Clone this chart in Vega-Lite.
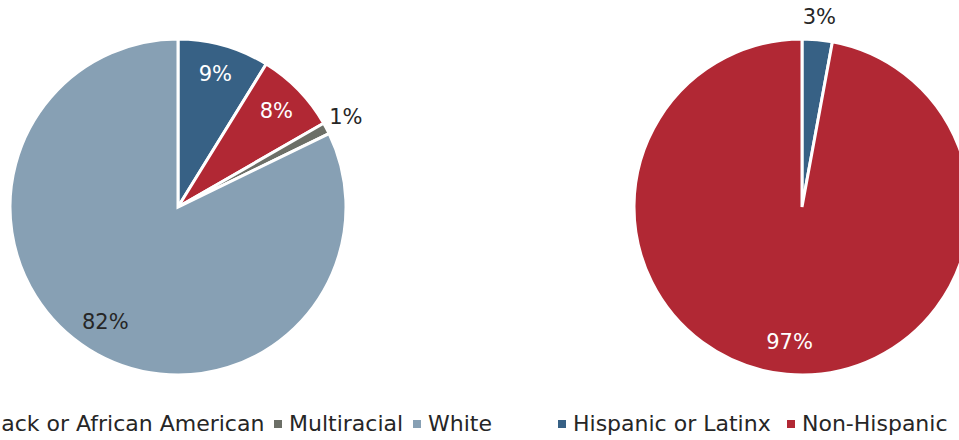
{
  "$schema": "https://vega.github.io/schema/vega-lite/v6.json",
  "autosize": {"type": "pad"},
  "padding": {"left": -127, "top": 0, "right": -13, "bottom": 0},
  "background": "white",
  "config": {"view": {"stroke": null}, "font": "DejaVu Sans"},
  "spacing": 276,
  "bounds": "flush",
  "resolve": {"scale": {"color": "independent", "theta": "independent"}, "legend": {"color": "independent"}},
  "hconcat": [
    {
      "width": 356,
      "height": 414,
      "data": {"values": [
        {"race": "Asian", "share": 0.088},
        {"race": "Black or African American", "share": 0.079},
        {"race": "Multiracial", "share": 0.011},
        {"race": "White", "share": 0.822}
      ]},
      "encoding": {
        "theta": {"field": "share", "type": "quantitative", "stack": true},
        "order": {"field": "race", "type": "ordinal", "sort": "ascending"},
        "detail": {"field": "race", "type": "nominal"}
      },
      "layer": [
        {
          "mark": {"type": "arc", "outerRadius": 168, "stroke": "white", "strokeWidth": 3},
          "encoding": {
            "color": {
              "field": "race", "type": "nominal",
              "scale": {"domain": ["Asian", "Black or African American", "Multiracial", "White"], "range": ["#376185", "#b12834", "#6c6f67", "#87a0b4"]},
              "legend": {"orient": "none", "legendX": -127, "legendY": 413, "direction": "horizontal", "title": null, "symbolType": "square", "symbolSize": 64, "symbolStrokeWidth": 0, "labelFontSize": 22, "labelFont": "DejaVu Sans", "labelColor": "#262626", "labelLimit": 400, "columnPadding": 2, "labelOffset": 0}
            }
          }
        },
        {
          "mark": {"type": "text", "radius": 137, "fontSize": 21, "font": "DejaVu Sans"},
          "encoding": {
            "text": {"condition": {"test": "datum.share >= 0.05", "field": "share", "type": "quantitative", "format": ".0%"}, "value": ""},
            "color": {"condition": {"test": "datum.race === 'White'", "value": "#262626"}, "value": "white"}
          }
        },
        {
          "mark": {"type": "text", "radius": 190, "fontSize": 21, "font": "DejaVu Sans", "color": "#262626"},
          "encoding": {
            "text": {"condition": {"test": "datum.share < 0.05", "field": "share", "type": "quantitative", "format": ".0%"}, "value": ""}
          }
        }
      ]
    },
    {
      "width": 340,
      "height": 414,
      "data": {"values": [
        {"ethnicity": "Hispanic or Latinx", "share": 0.029},
        {"ethnicity": "Non-Hispanic", "share": 0.971}
      ]},
      "encoding": {
        "theta": {"field": "share", "type": "quantitative", "stack": true},
        "order": {"field": "ethnicity", "type": "ordinal", "sort": "ascending"},
        "detail": {"field": "ethnicity", "type": "nominal"}
      },
      "layer": [
        {
          "mark": {"type": "arc", "outerRadius": 168, "stroke": "white", "strokeWidth": 3},
          "encoding": {
            "color": {
              "field": "ethnicity", "type": "nominal",
              "scale": {"domain": ["Hispanic or Latinx", "Non-Hispanic"], "range": ["#376185", "#b12834"]},
              "legend": {"orient": "none", "legendX": -81, "legendY": 413, "direction": "horizontal", "title": null, "symbolType": "square", "symbolSize": 64, "symbolStrokeWidth": 0, "labelFontSize": 22, "labelFont": "DejaVu Sans", "labelColor": "#262626", "labelLimit": 400, "columnPadding": 9, "labelOffset": 0}
            }
          }
        },
        {
          "mark": {"type": "text", "radius": 137, "fontSize": 21, "font": "DejaVu Sans", "color": "white"},
          "encoding": {
            "text": {"condition": {"test": "datum.share >= 0.05", "field": "share", "type": "quantitative", "format": ".0%"}, "value": ""}
          }
        },
        {
          "mark": {"type": "text", "radius": 190, "fontSize": 21, "font": "DejaVu Sans", "color": "#262626"},
          "encoding": {
            "text": {"condition": {"test": "datum.share < 0.05", "field": "share", "type": "quantitative", "format": ".0%"}, "value": ""}
          }
        }
      ]
    }
  ]
}
